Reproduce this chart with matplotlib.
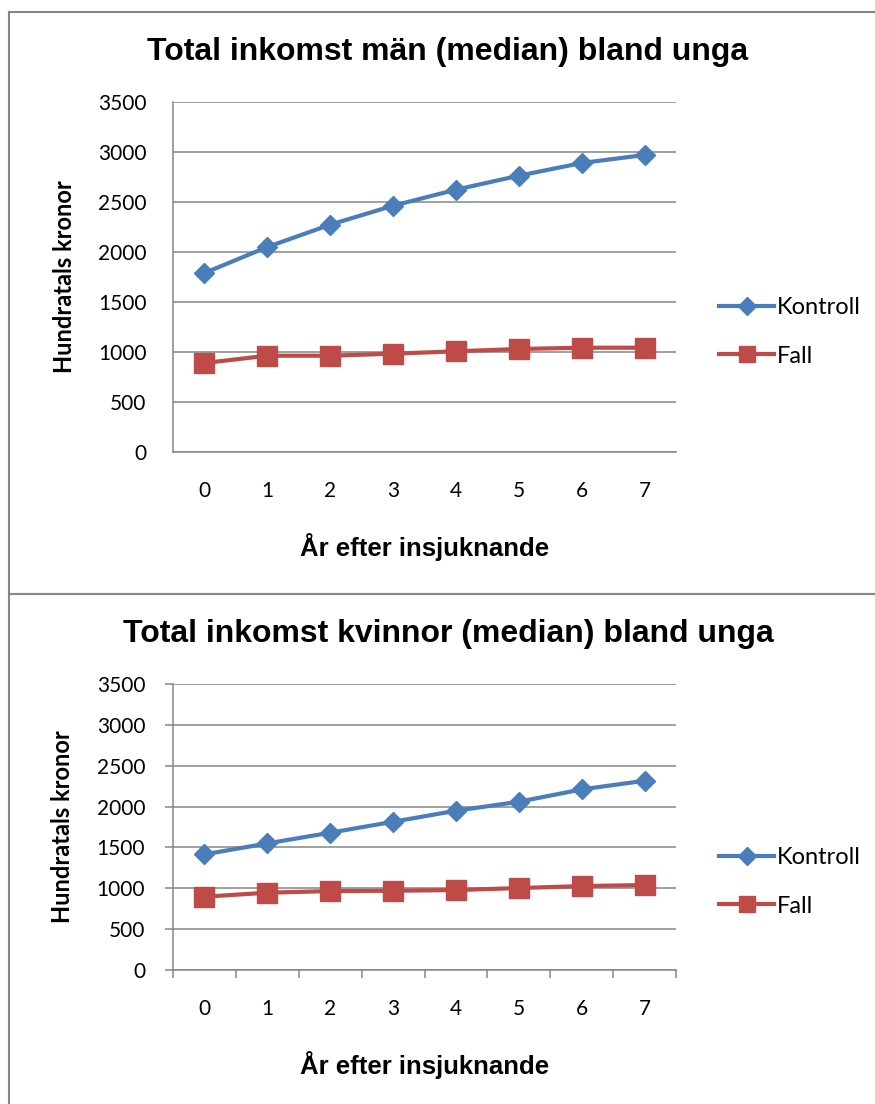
import matplotlib.pyplot as plt
from matplotlib.lines import Line2D

years = [0, 1, 2, 3, 4, 5, 6, 7]

# median total income, young men (hundreds of SEK)
man_kontroll = [1790, 2050, 2273, 2463, 2623, 2763, 2890, 2970]
man_fall = [890, 963, 963, 983, 1007, 1030, 1043, 1043]

# median total income, young women (hundreds of SEK)
kvinna_kontroll = [1415, 1549, 1680, 1814, 1949, 2059, 2210, 2316]
kvinna_fall = [897, 946, 966, 970, 978, 1003, 1027, 1040]

y_ticks = [0, 500, 1000, 1500, 2000, 2500, 3000, 3500]

BLUE = "#4a7ebb"
RED = "#be4b48"
GRID = "#868686"
TICK_FONT = "Lato"
BOLD_FONT = "Liberation Sans"

W, H = 875, 1104
fig = plt.figure(figsize=(W / 100, H / 100), dpi=100)


def fx(px):
    return px / W


def fy(px):
    return 1 - px / H


def draw_panel(top, bottom, title, title_y, kontroll, fall, ticks, legend_y):
    ax = fig.add_axes([fx(173), fy(bottom), fx(676) - fx(173), fy(top) - fy(bottom)])
    ax.plot(years, kontroll, color=BLUE, lw=3, marker="D", ms=10.5,
            label="Kontroll", zorder=3)
    ax.plot(years, fall, color=RED, lw=3, marker="s", ms=14,
            label="Fall", zorder=3)
    ax.set_xlim(-0.5, 7.5)
    ax.set_ylim(0, 3500)
    ax.set_yticks(y_ticks)
    ax.set_xticks(years)
    ax.grid(axis="y", color=GRID, lw=1.1)
    ax.set_axisbelow(True)
    for s in ["top", "right"]:
        ax.spines[s].set_visible(False)
    for s in ["left", "bottom"]:
        ax.spines[s].set_color(GRID)
        ax.spines[s].set_linewidth(1.1)
    if ticks:
        ax.set_xticks([x - 0.5 for x in range(9)], minor=True)
        ax.tick_params(axis="x", which="minor", length=6, color=GRID, width=1.1)
        ax.tick_params(axis="x", which="major", length=0, pad=21)
        ax.tick_params(axis="y", length=6, color=GRID, width=1.1, pad=14)
    else:
        ax.tick_params(axis="x", length=0, pad=21)
        ax.tick_params(axis="y", length=0, pad=19)
    for lab in ax.get_xticklabels() + ax.get_yticklabels():
        lab.set_fontfamily(TICK_FONT)
        lab.set_fontsize(15)
    ax.set_ylabel("Hundratals kronor", fontsize=17, fontweight="bold",
                  fontfamily=TICK_FONT, labelpad=16)
    ax.set_xlabel("År efter insjuknande", fontsize=18.5, fontweight="bold",
                  fontfamily=BOLD_FONT, labelpad=23)
    fig.text(fx(448), fy(title_y), title, ha="center", va="center",
             fontsize=23, fontweight="bold", fontfamily=BOLD_FONT)
    leg = ax.legend(loc="center left", bbox_to_anchor=(fx(698), fy(legend_y)),
                    bbox_transform=fig.transFigure, frameon=False, numpoints=1,
                    handlelength=2.33, handletextpad=0.1, labelspacing=1.15,
                    prop={"family": TICK_FONT, "size": 17})
    for h in leg.legend_handles:
        h.set_markersize(h.get_markersize() * 0.85)
    return ax


draw_panel(102, 452, "Total inkomst män (median) bland unga", 52,
           man_kontroll, man_fall, False, 332)
draw_panel(684, 970, "Total inkomst kvinnor (median) bland unga", 634,
           kvinna_kontroll, kvinna_fall, True, 882)

# chart frame borders
for xs, ys in [([8.5, 8.5], [12, H]), ([8.5, W], [12, 12]), ([8.5, W], [594, 594])]:
    fig.add_artist(Line2D([fx(x) for x in xs], [fy(y) for y in ys],
                          color=GRID, lw=1.5))

fig.savefig("out.png", dpi=100)
